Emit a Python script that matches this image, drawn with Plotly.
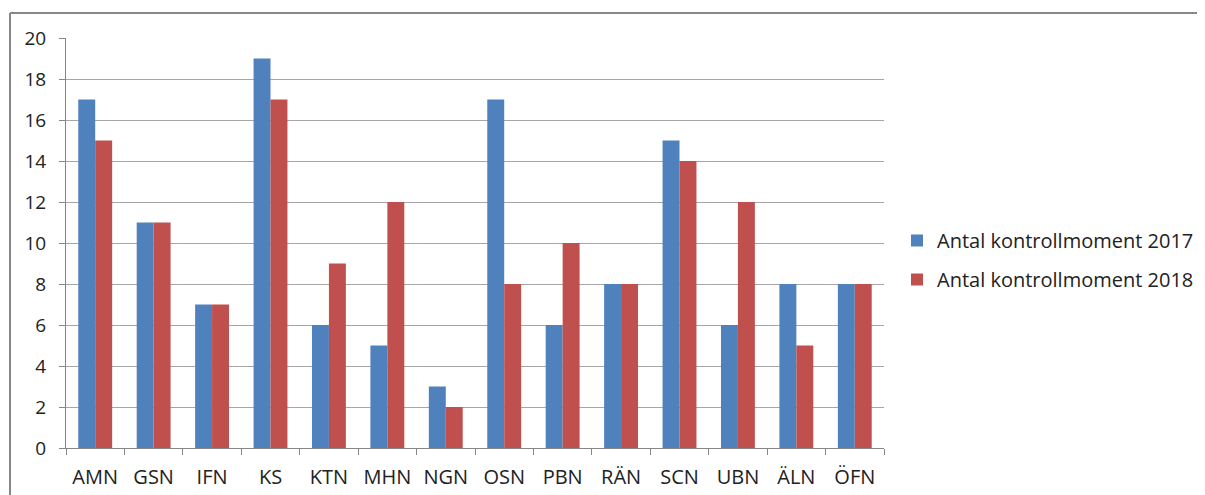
import plotly.graph_objects as go

categories = ["AMN", "GSN", "IFN", "KS", "KTN", "MHN", "NGN", "OSN", "PBN", "RÄN", "SCN", "UBN", "ÄLN", "ÖFN"]
values_2017 = [17, 11, 7, 19, 6, 5, 3, 17, 6, 8, 15, 6, 8, 8]
values_2018 = [15, 11, 7, 17, 9, 12, 2, 8, 10, 8, 14, 12, 5, 8]
series_names = ["Antal kontrollmoment 2017", "Antal kontrollmoment 2018"]
y_ticks = [0, 2, 4, 6, 8, 10, 12, 14, 16, 18, 20]

W, H = 1205, 495
OFF = 8  # page body margin
L, R, T, B = 66 - OFF, 884 - OFF, 38 - OFF, 448 - OFF
font_family = "Open Sans"

fig = go.Figure()
fig.add_trace(go.Bar(x=categories, y=values_2017, name=series_names[0],
                     marker=dict(color="#4F81BD", line=dict(width=0)), legendgroup="a"))
fig.add_trace(go.Bar(x=categories, y=values_2018, name=series_names[1],
                     marker=dict(color="#C0504D", line=dict(width=0)), legendgroup="b"))

pw, ph = R - L, B - T
def px_x(x):
    return (x - OFF - L) / pw
def px_y(y):
    return (B - (y - OFF)) / ph

fig.update_layout(
    width=W, height=H,
    margin=dict(l=L, r=W - R, t=T, b=H - B, pad=0, autoexpand=False),
    paper_bgcolor="white", plot_bgcolor="white",
    barmode="group", bargap=0.42, bargroupgap=0,
    font=dict(family=font_family, size=19, color="#222222"),
    showlegend=True,
    legend=dict(x=px_x(897), y=px_y(260), xanchor="left", yanchor="middle",
                font=dict(size=20, color="#222222"), tracegroupgap=10,
                itemwidth=30, bgcolor="rgba(0,0,0,0)"),
    xaxis=dict(showline=True, linecolor="#868686", linewidth=1,
               ticks="outside", tickson="boundaries", ticklen=6, tickcolor="#868686",
               showgrid=False, tickfont=dict(size=20), fixedrange=True,
               ticklabelstandoff=11),
    yaxis=dict(range=[0, 20], tickvals=y_ticks, showline=True, linecolor="#868686", linewidth=1,
               ticks="outside", ticklen=6, tickcolor="#868686",
               showgrid=True, gridcolor="#A6A6A6", gridwidth=1, zeroline=False,
               tickfont=dict(size=19), ticklabelstandoff=9),
    shapes=[
        dict(type="line", xref="paper", yref="paper",
             x0=px_x(10), x1=px_x(1215), y0=px_y(13), y1=px_y(13),
             line=dict(color="#888888", width=2), layer="above"),
        dict(type="line", xref="paper", yref="paper",
             x0=px_x(10), x1=px_x(10), y0=px_y(13), y1=px_y(510),
             line=dict(color="#888888", width=2), layer="above"),
    ],
)

fig.write_html("out.html")
